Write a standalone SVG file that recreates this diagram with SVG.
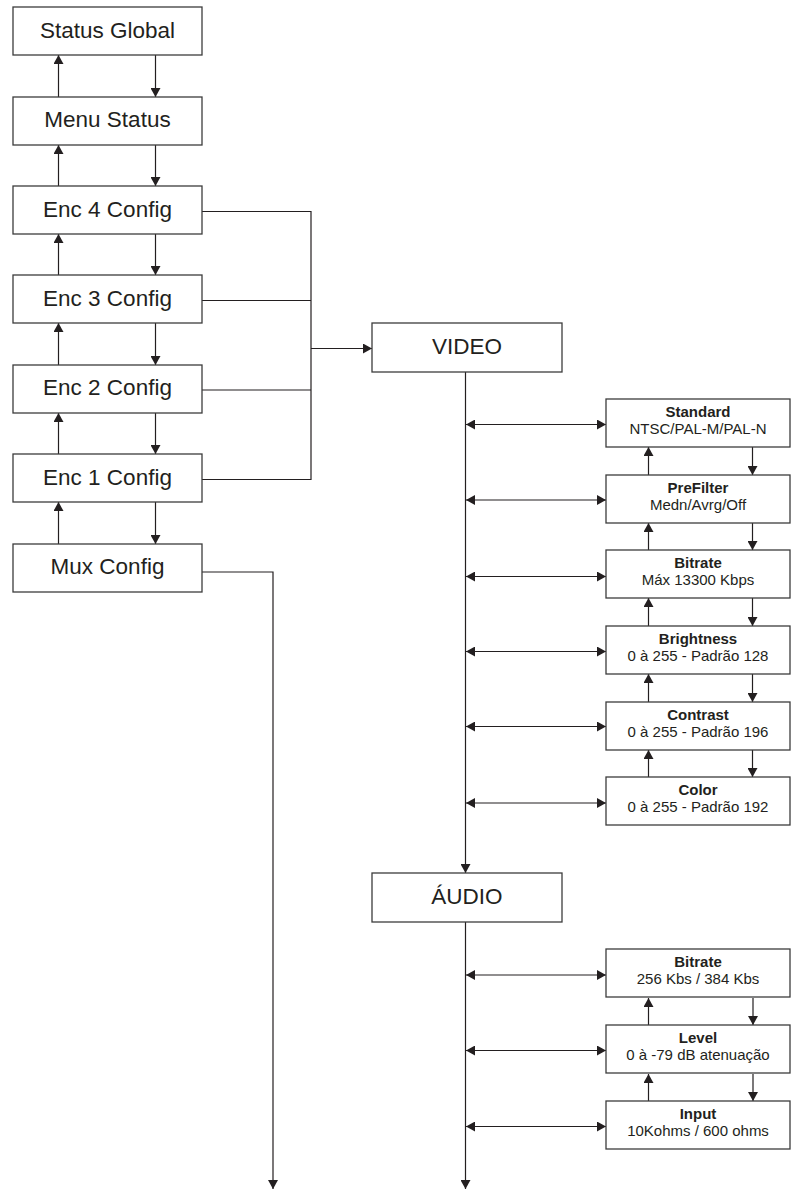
<svg xmlns="http://www.w3.org/2000/svg" width="792" height="1190" viewBox="0 0 792 1190">
<defs>
<marker id="ah" viewBox="0 0 9 10" refX="9" refY="5" markerWidth="9" markerHeight="10" markerUnits="userSpaceOnUse" orient="auto-start-reverse">
<path d="M0,0 L9,5 L0,10 z" fill="#231f20"/>
</marker>
</defs>
<style>
.box{fill:#ffffff;stroke:#3c3c3c;stroke-width:1.3}
.big{font-family:"Liberation Sans",Arial,sans-serif;font-size:22.5px;fill:#231f20;text-anchor:middle}
.t{font-family:"Liberation Sans",Arial,sans-serif;font-size:15px;fill:#231f20;text-anchor:middle;font-weight:bold}
.s{font-family:"Liberation Sans",Arial,sans-serif;font-size:15px;fill:#231f20;text-anchor:middle}
.ln{fill:none;stroke:#231f20;stroke-width:1.2}
.a{fill:none;stroke:#231f20;stroke-width:1.2;marker-end:url(#ah)}
.b{fill:none;stroke:#231f20;stroke-width:1.2;marker-start:url(#ah);marker-end:url(#ah)}
</style>
<g id="connectors">
<line class="a" x1="58.5" y1="97" x2="58.5" y2="55"/>
<line class="a" x1="155.5" y1="55" x2="155.5" y2="97"/>
<line class="a" x1="58.5" y1="186" x2="58.5" y2="145"/>
<line class="a" x1="155.5" y1="145" x2="155.5" y2="186"/>
<line class="a" x1="58.5" y1="275" x2="58.5" y2="234"/>
<line class="a" x1="155.5" y1="234" x2="155.5" y2="275"/>
<line class="a" x1="58.5" y1="365" x2="58.5" y2="323"/>
<line class="a" x1="155.5" y1="323" x2="155.5" y2="365"/>
<line class="a" x1="58.5" y1="454" x2="58.5" y2="413"/>
<line class="a" x1="155.5" y1="413" x2="155.5" y2="454"/>
<line class="a" x1="58.5" y1="544" x2="58.5" y2="502"/>
<line class="a" x1="155.5" y1="502" x2="155.5" y2="544"/>
<polyline class="ln" points="202,211.5 311,211.5 311,479.5 202,479.5"/>
<line class="ln" x1="202" y1="300.5" x2="311" y2="300.5"/>
<line class="ln" x1="202" y1="390" x2="311" y2="390"/>
<line class="a" x1="311" y1="348.5" x2="372" y2="348.5"/>
<polyline class="a" points="202,572 273,572 273,1189"/>
<line class="a" x1="465.5" y1="372" x2="465.5" y2="873"/>
<line class="b" x1="466" y1="424.5" x2="606" y2="424.5"/>
<line class="b" x1="466" y1="500" x2="606" y2="500"/>
<line class="b" x1="466" y1="576.5" x2="606" y2="576.5"/>
<line class="b" x1="466" y1="651.5" x2="606" y2="651.5"/>
<line class="b" x1="466" y1="726.5" x2="606" y2="726.5"/>
<line class="b" x1="466" y1="803" x2="606" y2="803"/>
<line class="a" x1="648.5" y1="475" x2="648.5" y2="447"/>
<line class="a" x1="752.5" y1="447" x2="752.5" y2="475"/>
<line class="a" x1="648.5" y1="550" x2="648.5" y2="523"/>
<line class="a" x1="752.5" y1="523" x2="752.5" y2="550"/>
<line class="a" x1="648.5" y1="626" x2="648.5" y2="598"/>
<line class="a" x1="752.5" y1="598" x2="752.5" y2="626"/>
<line class="a" x1="648.5" y1="702" x2="648.5" y2="674"/>
<line class="a" x1="752.5" y1="674" x2="752.5" y2="702"/>
<line class="a" x1="648.5" y1="777" x2="648.5" y2="750"/>
<line class="a" x1="752.5" y1="750" x2="752.5" y2="777"/>
<line class="a" x1="465.5" y1="922" x2="465.5" y2="1189"/>
<line class="b" x1="466" y1="975" x2="606" y2="975"/>
<line class="b" x1="466" y1="1050.5" x2="606" y2="1050.5"/>
<line class="b" x1="466" y1="1126.5" x2="606" y2="1126.5"/>
<line class="a" x1="648.5" y1="1025" x2="648.5" y2="998"/>
<line class="a" x1="753" y1="998" x2="753" y2="1025"/>
<line class="a" x1="648.5" y1="1101" x2="648.5" y2="1074"/>
<line class="a" x1="753" y1="1074" x2="753" y2="1101"/>
</g>
<g id="status-global"><rect class="box" x="13" y="7" width="189" height="48"/><text class="big" x="107.5" y="37.5">Status Global</text></g>
<g id="menu-status"><rect class="box" x="13" y="97" width="189" height="48"/><text class="big" x="107.5" y="127">Menu Status</text></g>
<g id="enc4"><rect class="box" x="13" y="186" width="189" height="48"/><text class="big" x="107.5" y="216.5">Enc 4 Config</text></g>
<g id="enc3"><rect class="box" x="13" y="275" width="189" height="48"/><text class="big" x="107.5" y="305.5">Enc 3 Config</text></g>
<g id="enc2"><rect class="box" x="13" y="365" width="189" height="48"/><text class="big" x="107.5" y="395">Enc 2 Config</text></g>
<g id="enc1"><rect class="box" x="13" y="454" width="189" height="48"/><text class="big" x="107.5" y="484.5">Enc 1 Config</text></g>
<g id="mux"><rect class="box" x="13" y="544" width="189" height="48"/><text class="big" x="107.5" y="574">Mux Config</text></g>
<g id="video"><rect class="box" x="372" y="323" width="190" height="49"/><text class="big" x="467" y="354">VIDEO</text></g>
<g id="audio"><rect class="box" x="372" y="873" width="190" height="49"/><text class="big" x="467" y="904">ÁUDIO</text></g>
<g id="standard"><rect class="box" x="606" y="399" width="184" height="48"/><text class="t" x="698" y="417">Standard</text><text class="s" x="698" y="433.5">NTSC/PAL-M/PAL-N</text></g>
<g id="prefilter"><rect class="box" x="606" y="475" width="184" height="48"/><text class="t" x="698" y="493">PreFilter</text><text class="s" x="698" y="509.5">Medn/Avrg/Off</text></g>
<g id="v-bitrate"><rect class="box" x="606" y="550" width="184" height="48"/><text class="t" x="698" y="568">Bitrate</text><text class="s" x="698" y="584.5">Máx 13300 Kbps</text></g>
<g id="brightness"><rect class="box" x="606" y="626" width="184" height="48"/><text class="t" x="698" y="644">Brightness</text><text class="s" x="698" y="660.5">0 à 255 - Padrão 128</text></g>
<g id="contrast"><rect class="box" x="606" y="702" width="184" height="48"/><text class="t" x="698" y="720">Contrast</text><text class="s" x="698" y="736.5">0 à 255 - Padrão 196</text></g>
<g id="color"><rect class="box" x="606" y="777" width="184" height="48"/><text class="t" x="698" y="795">Color</text><text class="s" x="698" y="811.5">0 à 255 - Padrão 192</text></g>
<g id="a-bitrate"><rect class="box" x="606" y="949" width="184" height="48"/><text class="t" x="698" y="967">Bitrate</text><text class="s" x="698" y="983.5">256 Kbs / 384 Kbs</text></g>
<g id="level"><rect class="box" x="606" y="1025" width="184" height="48"/><text class="t" x="698" y="1043">Level</text><text class="s" x="698" y="1059.5">0 à -79 dB atenuação</text></g>
<g id="input"><rect class="box" x="606" y="1101" width="184" height="48"/><text class="t" x="698" y="1119">Input</text><text class="s" x="698" y="1135.5">10Kohms / 600 ohms</text></g>
</svg>
